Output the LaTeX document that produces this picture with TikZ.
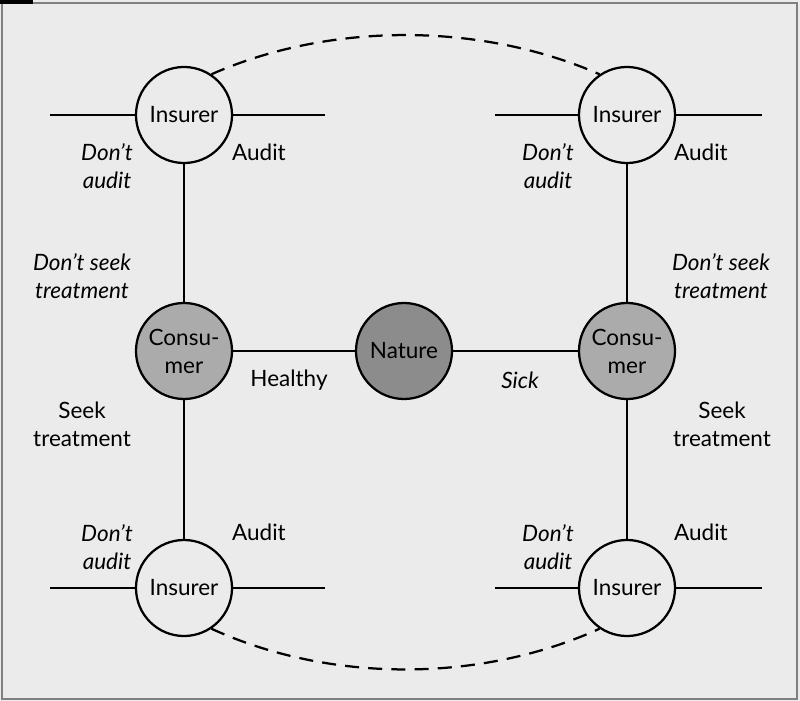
\documentclass[tikz,border=0pt]{standalone}
\usepackage{fontspec}
\setmainfont{Lato}
\definecolor{papier}{gray}{0.92}
\definecolor{hell}{gray}{0.67}
\definecolor{dunkel}{gray}{0.55}
\begin{document}
\begin{tikzpicture}[x=0.025cm, y=-0.025cm, >=latex,
    spieler/.style={circle, draw, line width=1.6pt, minimum size=2.4cm, inner sep=0pt,
      align=center, font=\fontsize{16}{20}\selectfont},
    zug/.style={line width=1.6pt},
    info/.style={draw, line width=1.6pt, dash pattern=on 10pt off 6.5pt},
    txt/.style={align=center, font=\fontsize{16}{20}\selectfont},
    ktxt/.style={txt, font=\fontsize{16}{20}\selectfont\itshape}]

    % Hintergrund und Rahmen
    \fill[papier] (0,0) rectangle (800,701);
    \draw[gray, line width=0.8pt] (2,3) rectangle (797,699);
    \fill[black] (0,0) rectangle (33,4);

    % Spielerknoten
    \node[spieler, fill=dunkel] (natur) at (404,351) {Nature};
    \node[spieler, fill=hell] (konsL) at (184,351) {Consu-\\mer};
    \node[spieler, fill=hell] (konsR) at (627,351) {Consu-\\mer};
    \node[spieler, fill=papier] (versLO) at (184,115) {Insurer};
    \node[spieler, fill=papier] (versLU) at (184,588) {Insurer};
    \node[spieler, fill=papier] (versRO) at (627,115) {Insurer};
    \node[spieler, fill=papier] (versRU) at (627,588) {Insurer};

    % Endpunkte der Aeste
    \coordinate (endeLOl) at (50,115);
    \coordinate (endeLOr) at (325,115);
    \coordinate (endeROl) at (495,115);
    \coordinate (endeROr) at (762,115);
    \coordinate (endeLUl) at (50,588);
    \coordinate (endeLUr) at (325,588);
    \coordinate (endeRUl) at (495,588);
    \coordinate (endeRUr) at (762,588);

    % Natur: gesund / krank
    \draw[zug] (natur) -- (konsL);
    \draw[zug] (natur) -- (konsR);

    % Konsument: Behandlung ja / nein
    \draw[zug] (konsL) -- (versLO);
    \draw[zug] (konsL) -- (versLU);
    \draw[zug] (konsR) -- (versRO);
    \draw[zug] (konsR) -- (versRU);

    % Versicherer: pruefen / nicht pruefen
    \draw[zug] (versLO) -- (endeLOl);
    \draw[zug] (versLO) -- (endeLOr);
    \draw[zug] (versRO) -- (endeROl);
    \draw[zug] (versRO) -- (endeROr);
    \draw[zug] (versLU) -- (endeLUl);
    \draw[zug] (versLU) -- (endeLUr);
    \draw[zug] (versRU) -- (endeRUl);
    \draw[zug] (versRU) -- (endeRUr);

    % Informationsmengen (gestrichelt)
    \draw[info] (versLO.56) .. controls (330,22) and (480,22) .. (versRO.124);
    \draw[info] (versLU.-56) .. controls (330,683) and (480,683) .. (versRU.-124);

    % Beschriftungen Natur
    \node[txt] (gesund) at (289,380) {Healthy};
    \node[ktxt] (krank) at (520,380) {Sick};

    % Beschriftungen Konsument
    \node[ktxt] (nbL) at (82,276) {Don't seek\\treatment};
    \node[txt] (bL) at (82,424) {Seek\\treatment};
    \node[ktxt] (nbR) at (721,276) {Don't seek\\treatment};
    \node[txt] (bR) at (722,424) {Seek\\treatment};

    % Beschriftungen Versicherer
    \node[ktxt] (npLO) at (107,166) {Don't\\audit};
    \node[txt] (pLO) at (259,152) {Audit};
    \node[ktxt] (npRO) at (548,166) {Don't\\audit};
    \node[txt] (pRO) at (701,152) {Audit};
    \node[ktxt] (npLU) at (107,547) {Don't\\audit};
    \node[txt] (pLU) at (259,532) {Audit};
    \node[ktxt] (npRU) at (548,547) {Don't\\audit};
    \node[txt] (pRU) at (701,532) {Audit};

\end{tikzpicture}
\end{document}
